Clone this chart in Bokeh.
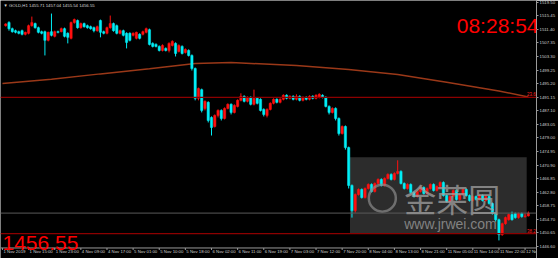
from bokeh.plotting import figure
from bokeh.models import Range1d, FixedTicker, Label, BoxAnnotation, Span
from bokeh.core.properties import value
from bokeh.embed import file_html
from bokeh.resources import INLINE

# ---------------- data (GOLD, H1) ----------------
opens = [1512.5,1513.4,1511.6,1511.0,1510.7,1511.0,1509.9,1510.2,1512.5,1513.1,
         1511.9,1510.7,1510.7,1508.1,1510.7,1509.3,1510.7,1510.7,1511.6,1510.2,
         1508.7,1513.4,1514.0,1511.9,1513.1,1512.5,1512.2,1511.9,1511.0,1514.0,
         1510.7,1510.2,1511.9,1513.1,1512.5,1510.2,1511.0,1510.2,1510.2,1509.6,
         1508.7,1509.9,1509.9,1510.5,1511.3,1507.2,1506.9,1506.3,1505.1,1505.7,
         1505.1,1506.6,1507.2,1504.8,1506.3,1504.5,1505.1,1503.6,1499.7,1490.8,
         1493.4,1487.8,1489.6,1485.1,1482.4,1485.7,1487.2,1484.8,1487.8,1489.0,
         1486.6,1488.4,1490.2,1491.4,1489.9,1491.1,1489.0,1490.8,1490.5,1487.5,
         1485.7,1487.5,1489.3,1490.5,1489.6,1490.5,1491.7,1490.8,1491.4,1490.5,
         1491.4,1490.2,1491.1,1490.5,1491.4,1490.8,1491.1,1491.7,1491.1,1488.4,
         1486.6,1487.8,1484.8,1480.3,1482.4,1476.1,1464.8,1457.3,1462.1,1463.6,
         1461.2,1463.9,1465.1,1463.0,1465.4,1466.6,1464.8,1466.9,1468.1,1466.6,
         1468.4,1469.0,1465.4,1463.9,1465.1,1462.7,1461.5,1463.0,1464.2,1462.4,
         1463.9,1465.1,1463.3,1464.5,1465.7,1461.8,1460.0,1461.5,1463.3,1460.6,
         1462.1,1463.6,1461.8,1460.3,1461.5,1460.6,1461.8,1460.3,1461.5,1459.4,
         1456.4,1454.6,1450.1,1453.4,1454.6,1456.1,1456.4,1455.2,1456.4,1455.5,
         1455.71]
highs = [1513.2,1513.8,1511.9,1511.3,1511.0,1511.3,1510.7,1512.8,1515.2,1513.4,
         1512.2,1511.0,1511.0,1510.7,1516.1,1511.0,1511.0,1511.9,1511.9,1510.5,
         1513.7,1514.6,1514.3,1513.4,1513.4,1512.8,1512.5,1512.2,1512.5,1514.3,
         1511.0,1512.2,1515.5,1513.4,1512.8,1511.3,1511.3,1510.5,1510.5,1510.5,
         1510.7,1510.2,1511.0,1511.9,1511.6,1507.5,1507.2,1506.6,1506.9,1506.0,
         1507.5,1508.1,1507.5,1506.9,1506.6,1505.7,1505.4,1503.9,1500.0,1494.0,
         1493.7,1490.2,1489.9,1485.4,1486.0,1487.5,1487.5,1488.1,1489.3,1489.3,
         1489.0,1490.5,1492.3,1491.7,1491.4,1491.4,1493.4,1491.1,1490.8,1487.8,
         1487.8,1489.6,1490.8,1490.8,1490.8,1492.0,1492.0,1491.7,1491.7,1492.0,
         1491.7,1491.4,1491.4,1491.7,1491.7,1492.0,1492.3,1492.0,1491.4,1488.7,
         1488.1,1488.1,1485.1,1482.7,1482.7,1476.4,1465.1,1462.4,1463.9,1463.9,
         1464.2,1465.4,1465.4,1465.7,1466.9,1466.9,1467.2,1468.4,1468.4,1468.7,
         1472.3,1469.3,1465.7,1465.4,1465.4,1463.0,1463.3,1464.5,1464.5,1464.2,
         1465.4,1465.4,1464.8,1466.0,1466.0,1462.1,1461.8,1463.6,1463.6,1462.4,
         1463.9,1463.9,1462.1,1461.8,1461.8,1462.1,1462.1,1461.8,1461.8,1459.7,
         1456.7,1454.9,1453.7,1455.5,1456.4,1457.0,1456.7,1456.7,1456.7,1456.4,
         1457.04]
lows = [1512.2,1511.0,1510.4,1510.2,1509.9,1509.6,1509.6,1509.9,1512.2,1511.6,
        1510.2,1509.9,1503.6,1507.8,1509.3,1509.0,1510.2,1510.5,1509.0,1507.2,
        1508.4,1513.1,1511.6,1511.6,1511.9,1511.6,1511.3,1510.5,1510.7,1509.0,
        1509.9,1509.9,1511.6,1510.7,1509.9,1509.9,1509.3,1505.7,1507.8,1509.3,
        1508.4,1508.4,1509.6,1510.2,1506.6,1506.0,1506.0,1504.8,1504.8,1504.8,
        1504.5,1506.3,1503.3,1504.5,1503.9,1504.2,1503.3,1499.1,1490.2,1490.2,
        1486.6,1487.2,1483.6,1479.7,1482.1,1485.1,1484.2,1484.5,1487.5,1486.0,
        1486.3,1488.1,1489.9,1489.6,1489.6,1488.7,1488.7,1489.0,1486.9,1485.4,
        1485.1,1487.2,1489.0,1489.3,1489.3,1490.2,1490.5,1490.5,1490.2,1490.2,
        1489.9,1489.9,1490.2,1490.2,1490.5,1490.5,1490.8,1490.8,1488.1,1486.0,
        1486.3,1484.2,1479.7,1480.0,1475.5,1463.9,1455.2,1456.7,1461.8,1460.9,
        1460.9,1463.6,1462.7,1462.7,1465.1,1464.5,1464.5,1466.6,1466.3,1466.3,
        1468.1,1465.1,1463.6,1463.6,1462.4,1461.2,1461.2,1462.7,1462.1,1462.1,
        1463.6,1463.0,1463.0,1464.2,1461.5,1459.7,1459.7,1461.2,1460.3,1460.3,
        1461.8,1461.5,1460.0,1460.0,1460.3,1460.3,1460.0,1460.0,1459.1,1456.1,
        1454.0,1448.4,1449.8,1453.1,1454.3,1454.3,1454.9,1454.9,1455.2,1455.2,
        1455.54]
closes = [1513.0,1511.6,1510.7,1510.5,1510.2,1509.9,1510.5,1512.5,1513.4,1511.9,
          1510.5,1510.2,1508.1,1510.5,1509.6,1510.7,1510.5,1511.6,1509.3,1509.0,
          1513.4,1514.3,1511.9,1513.1,1512.2,1511.9,1511.6,1511.0,1512.2,1510.5,
          1510.2,1511.9,1513.1,1511.0,1510.2,1511.0,1509.6,1507.5,1508.1,1510.2,
          1510.5,1508.7,1510.7,1511.6,1506.9,1506.3,1506.3,1505.1,1506.6,1505.1,
          1507.2,1507.8,1504.2,1506.6,1504.2,1505.4,1503.6,1499.7,1490.8,1493.7,
          1487.2,1489.9,1484.2,1482.1,1485.7,1487.2,1484.8,1487.8,1489.0,1486.6,
          1488.7,1490.2,1491.4,1489.9,1491.1,1489.0,1490.8,1489.3,1487.2,1486.0,
          1487.5,1489.3,1490.5,1489.6,1490.5,1491.7,1490.8,1491.4,1490.5,1491.4,
          1490.2,1491.1,1490.5,1491.4,1490.8,1491.7,1492.0,1491.1,1488.4,1486.6,
          1487.8,1484.8,1480.3,1482.4,1476.1,1464.8,1457.3,1462.1,1463.6,1461.2,
          1463.9,1465.1,1463.0,1465.4,1466.6,1464.8,1466.9,1468.1,1466.6,1468.4,
          1469.0,1465.4,1463.9,1465.1,1462.7,1461.5,1463.0,1464.2,1462.4,1463.9,
          1465.1,1463.3,1464.5,1465.7,1461.8,1460.0,1461.5,1463.3,1460.6,1462.1,
          1463.6,1461.8,1460.3,1461.5,1460.6,1461.8,1460.3,1461.5,1459.4,1456.4,
          1454.6,1450.1,1453.4,1455.2,1456.1,1454.6,1455.2,1456.4,1455.5,1455.7,
          1456.55]

# moving average (read at a few bars)
ma_bar = [0, 15, 30, 45, 59, 70, 90, 106, 121, 136, 152, 161]
ma_val = [1495.2, 1496.5, 1498.1, 1499.6, 1501.2, 1501.5, 1500.6, 1499.4, 1497.9, 1495.6, 1493.0, 1491.2]

# horizontal levels
level_prices = [1491.1, 1450.4]
level_names = ["23.6", "38.2"]

# price-axis ticks
y_ticks = [1446.60, 1450.65, 1454.70, 1458.75, 1462.80, 1466.85, 1470.90, 1474.95, 1479.00,
           1483.05, 1487.10, 1491.15, 1495.20, 1499.25, 1503.30, 1507.35, 1511.40, 1515.45, 1519.50]

# time-axis labels (every 8 bars)
time_labels = ["1 Nov 2019", "1 Nov 15:00", "1 Nov 23:00", "4 Nov 09:00", "4 Nov 17:00",
               "5 Nov 01:00", "5 Nov 10:00", "5 Nov 18:00", "6 Nov 02:00", "6 Nov 11:00",
               "6 Nov 19:00", "7 Nov 03:00", "7 Nov 12:00", "7 Nov 20:00", "8 Nov 04:00",
               "8 Nov 13:00", "8 Nov 21:00", "11 Nov 05:00", "11 Nov 14:00", "11 Nov 22:00",
               "12 Nov 07:00"]
time_label_bars = [0, 8, 16, 24, 32, 40, 48, 56, 64, 72, 80, 88, 96, 104, 112, 120, 128, 136, 144, 152, 160]

symbol = "GOLD,H1"
last_price = "1456.55"
bar_ohlc_text = "1455.71 1457.04 1455.54 1456.55"
clock = "08:28:54"

# ---------------- figure ----------------
n = min(len(opens), len(highs), len(lows), len(closes))
bars = list(range(1, n + 1))
UP = "#ff1010"
DOWN = "#00eef6"
colors = [UP if closes[i] >= opens[i] else DOWN for i in range(n)]
tops = [max(opens[i], closes[i]) for i in range(n)]
bots = [min(opens[i], closes[i]) for i in range(n)]
bots = [b if t - b > 0.12 else t - 0.12 for t, b in zip(tops, bots)]

Y_TOP = 1520.0
Y_BOT = 1443.0          # bottom strip of the window holds the time scale
AXIS_Y = 1446.14        # price at the time-scale border line
LABEL_Y = 1445.1

p = figure(width=558, height=258, output_backend="svg", toolbar_location=None,
           x_range=Range1d(-0.6, 163.5), y_range=Range1d(Y_BOT, Y_TOP),
           y_axis_location="right", x_axis_location=None,
           min_border_left=0, min_border_top=0, min_border_right=18, min_border_bottom=0,
           background_fill_color="black", border_fill_color="black",
           outline_line_color=None)
p.grid.visible = False

# price axis
ya = p.yaxis[0]
ya.ticker = FixedTicker(ticks=y_ticks)
ya.major_label_overrides = {t: "%.2f" % t for t in y_ticks}
ya.major_label_text_font_size = "4.3px"
ya.major_label_text_font = "Liberation Sans"
ya.major_label_text_color = "#d0d0d0"
ya.major_label_standoff = 1
ya.major_tick_out = 2
ya.major_tick_in = 0
ya.minor_tick_out = 0
ya.minor_tick_in = 0
ya.axis_line_color = "#9a9a9a"
ya.major_tick_line_color = "#9a9a9a"

# time scale (border line, ticks, labels)
p.add_layout(Span(location=AXIS_Y, dimension="width", line_color="#9a9a9a", line_width=1))
p.segment(x0=time_label_bars, y0=[AXIS_Y] * len(time_label_bars),
          x1=time_label_bars, y1=[AXIS_Y - 0.6] * len(time_label_bars),
          line_color="#9a9a9a", line_width=1)
p.text(x=[b + 0.3 for b in time_label_bars], y=[LABEL_Y] * len(time_label_bars),
       text=time_labels, text_font=value("Liberation Sans"), text_font_size=value("4.3px"),
       text_color="#d0d0d0", text_align="left", text_baseline="middle")

# watermark box
p.add_layout(BoxAnnotation(left=106.4, right=160.5, bottom=1450.4, top=1473.2,
                           fill_color="#2c2c2c", fill_alpha=1.0, line_color=None,
                           level="underlay"))

# levels
for lp, nm in zip(level_prices, level_names):
    p.add_layout(Span(location=lp, dimension="width", line_color="#8c0000", line_width=1.2))
    p.add_layout(Label(x=163.3, y=lp, text=nm, text_font="Liberation Sans",
                       text_font_size="4.5px", text_color="#ff2020",
                       text_align="right", text_baseline="bottom", y_offset=1))

# bid line
p.add_layout(Span(location=1456.55, dimension="width", line_color="#5a5a5a", line_width=1))

# moving average
p.line(ma_bar, ma_val, line_color="#9a3818", line_width=1.5)

# candles
p.segment(x0=bars, y0=lows[:n], x1=bars, y1=highs[:n], line_color=colors, line_width=1)
p.vbar(x=bars, width=0.7, top=tops, bottom=bots, fill_color=colors, line_color=colors, line_width=0.5)

# watermark
p.scatter([116.3], [1461.0], size=27, marker="circle", fill_color=None,
          line_color="#8a8a8a", line_width=2.5, line_alpha=0.7)
p.add_layout(Label(x=123, y=1461.0, text="金荣圆", text_font="Noto Sans CJK SC",
                   text_font_size="32px", text_color="#a0a0a0", text_alpha=0.75,
                   text_align="left", text_baseline="middle"))
p.add_layout(Label(x=123, y=1455.6, text="www.jrwei.com", text_font="Liberation Sans",
                   text_font_size="14px", text_color="#a0a0a0", text_alpha=0.75,
                   text_align="left", text_baseline="top"))

# price box on axis
p.add_layout(Label(x=542, y=1456.55, x_units="screen", text=last_price,
                   text_font="Liberation Sans", text_font_size="4.3px", text_color="black",
                   background_fill_color="white", text_align="left", text_baseline="middle"))

# header and big texts
p.add_layout(Label(x=3, y=253, x_units="screen", y_units="screen",
                   text="\u25bc " + symbol + "  " + bar_ohlc_text,
                   text_font="Liberation Sans", text_font_size="4.3px", text_color="#d8d8d8",
                   text_align="left", text_baseline="middle"))
p.add_layout(Label(x=538, y=233, x_units="screen", y_units="screen", text=clock,
                   text_font="Liberation Sans", text_font_size="21px", text_color="#ff0000",
                   text_align="right", text_baseline="alphabetic"))
p.add_layout(Label(x=2, y=16, x_units="screen", y_units="screen", text=last_price,
                   text_font="Liberation Sans", text_font_size="21px", text_color="#ff0000",
                   text_align="left", text_baseline="alphabetic"))

open("out.html", "w").write(file_html(p, INLINE))
